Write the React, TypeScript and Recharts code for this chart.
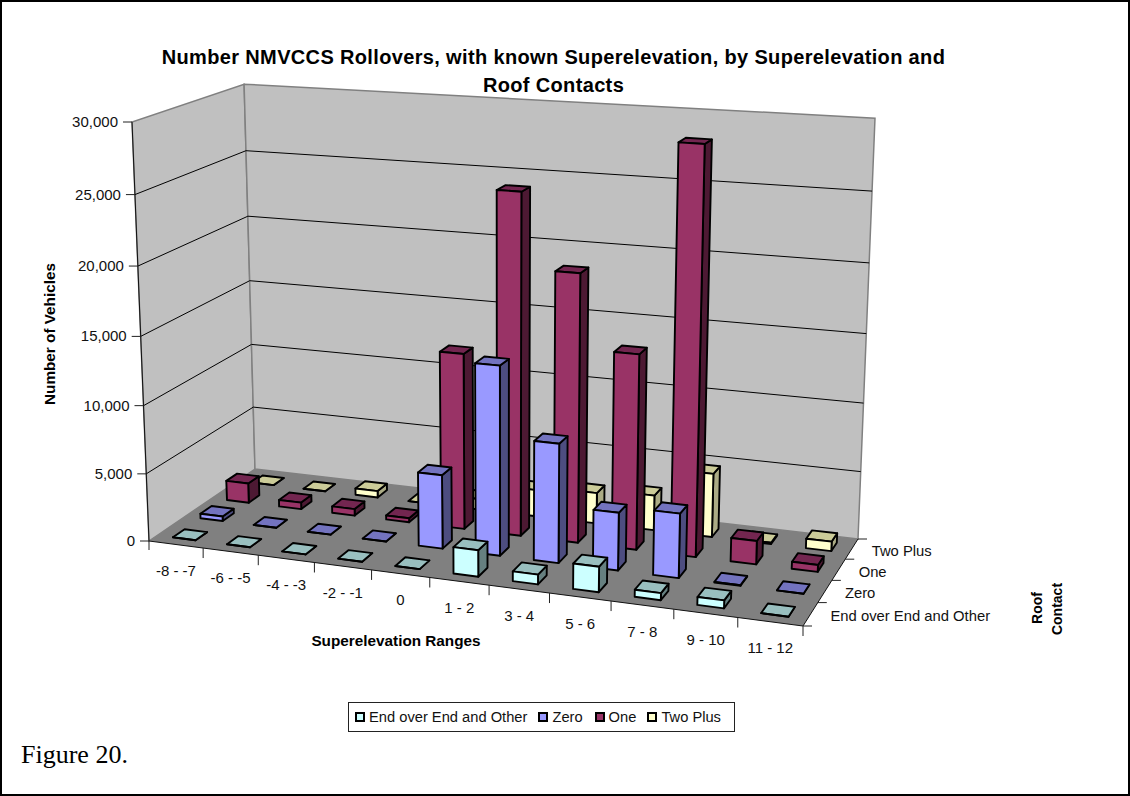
import { BarChart, Bar, XAxis, YAxis, Customized } from "recharts";

const categories = ["-8 - -7", "-6 - -5", "-4 - -3", "-2 - -1", "0", "1 - 2", "3 - 4", "5 - 6", "7 - 8", "9 - 10", "11 - 12"];
const endOverEnd = [0, 0, 0, 0, 0, 1900, 700, 1800, 500, 550, 0];
const zero = [350, 0, 0, 0, 5400, 13700, 8600, 4150, 4600, 50, 0];
const one = [1500, 500, 500, 300, 13000, 24900, 19500, 14150, 28950, 1700, 500];
const twoPlus = [0, 0, 500, 0, 800, 2000, 2300, 2600, 4700, 100, 700];
const depthLabels = ["End over End and Other", "Zero", "One", "Two Plus"];
const yTicks = [0, 5000, 10000, 15000, 20000, 25000, 30000];

const data = categories.map((name, i) => ({
  name,
  end: endOverEnd[i],
  zero: zero[i],
  one: one[i],
  two: twoPlus[i],
}));

const W = 1130;
const H = 796;
const TOP = 122;
const BOTTOM = 541;
const PLOT_H = BOTTOM - TOP;
const FONT = "'Liberation Sans', Arial, sans-serif";

// floor corners on screen: front-left, front-right, back-right, back-left
const FL = [149, 541];
const FR = [803, 626];
const BR = [858, 539];
const BL = [255, 469];
// top of the left front edge and of the right back edge
const TFL = [132, 122];
const TBR = [875, 121];

const sx = FL[0] - FR[0] + BR[0] - BL[0];
const sy = FL[1] - FR[1] + BR[1] - BL[1];
const dx1 = FR[0] - BR[0];
const dx2 = BL[0] - BR[0];
const dy1 = FR[1] - BR[1];
const dy2 = BL[1] - BR[1];
const den = dx1 * dy2 - dx2 * dy1;
const g = (sx * dy2 - dx2 * sy) / den;
const i2 = (dx1 * sy - sx * dy1) / den;
const ax = FR[0] - FL[0] + g * FR[0];
const bx = BL[0] - FL[0] + i2 * BL[0];
const ay = FR[1] - FL[1] + g * FR[1];
const by = BL[1] - FL[1] + i2 * BL[1];
const j = (TBR[0] * (1 + g + i2) - (ax + bx) - TFL[0]) / (TFL[0] - TBR[0]);
const cx = TFL[0] * (1 + j) - FL[0];
const cy = TFL[1] * (1 + j) - FL[1];

// u along the categories, v into the depth, h up the value axis, all 0..1
function project(u: number, v: number, h: number): [number, number] {
  const w = 1 + g * u + i2 * v + j * h;
  return [
    (FL[0] + ax * u + bx * v + cx * h) / w,
    (FL[1] + ay * u + by * v + cy * h) / w,
  ];
}

function poly(pts: [number, number][]) {
  return pts.map((p) => `${p[0].toFixed(1)},${p[1].toFixed(1)}`).join(" ");
}

const N = categories.length;
const D = depthLabels.length;
const BAR = 0.42;

function bar3d(row: number, front: string, top: string, side: string) {
  return (props: any) => {
    const h = props.height / PLOT_H;
    const u0 = (props.index + 0.5 - BAR / 2) / N;
    const u1 = (props.index + 0.5 + BAR / 2) / N;
    const v0 = (row + 0.5 - BAR / 2) / D;
    const v1 = (row + 0.5 + BAR / 2) / D;
    const line = { stroke: "#000", strokeWidth: 1.9, strokeLinejoin: "round" as const };
    return (
      <g>
        <polygon
          points={poly([project(u1, v0, 0), project(u1, v1, 0), project(u1, v1, h), project(u1, v0, h)])}
          fill={side}
          {...line}
        />
        <polygon
          points={poly([project(u0, v0, h), project(u1, v0, h), project(u1, v1, h), project(u0, v1, h)])}
          fill={top}
          {...line}
        />
        <polygon
          points={poly([project(u0, v0, 0), project(u1, v0, 0), project(u1, v0, h), project(u0, v0, h)])}
          fill={front}
          {...line}
        />
      </g>
    );
  };
}

function Walls() {
  const grid = yTicks.slice(1, -1).map((t) => t / 30000);
  return (
    <g>
      <polygon
        points={poly([project(0, 0, 0), project(0, 1, 0), project(0, 1, 1), project(0, 0, 1)])}
        fill="#C0C0C0"
        stroke="#808080"
        strokeWidth={1.5}
      />
      <polygon
        points={poly([project(0, 1, 0), project(1, 1, 0), project(1, 1, 1), project(0, 1, 1)])}
        fill="#C0C0C0"
        stroke="#808080"
        strokeWidth={1.5}
      />
      <polygon
        points={poly([project(0, 0, 0), project(1, 0, 0), project(1, 1, 0), project(0, 1, 0)])}
        fill="#808080"
      />
      {grid.map((h) => (
        <polyline
          key={h}
          points={poly([project(0, 0, h), project(0, 1, h), project(1, 1, h)])}
          fill="none"
          stroke="#000"
          strokeWidth={1}
        />
      ))}
      <polyline points={poly([project(0, 0, 1), project(0, 0, 0), project(1, 0, 0), project(1, 1, 0)])} fill="none" stroke="#111" strokeWidth={1} />
      {categories.map((_, i) => {
        const a = project((i + 1) / N, 0, 0);
        return <line key={i} x1={a[0]} y1={a[1]} x2={a[0]} y2={a[1] + 10} stroke="#222" />;
      })}
      <line x1={FL[0]} y1={FL[1]} x2={FL[0]} y2={FL[1] + 9} stroke="#222" />
      {depthLabels.map((name, i) => {
        const a = project(1, i / D, 0);
        const b = project(1, (i + 0.5) / D, 0);
        return (
          <g key={name}>
            <line x1={a[0]} y1={a[1]} x2={a[0] + 9} y2={a[1]} stroke="#222" />
            <text x={b[0] + 20} y={b[1] + 7} fontSize={14.8} fontFamily={FONT} fill="#111">
              {name}
            </text>
          </g>
        );
      })}
      <line x1={BR[0]} y1={BR[1]} x2={BR[0] + 9} y2={BR[1]} stroke="#222" />
    </g>
  );
}

function YTick(props: any) {
  const h = (BOTTOM - props.y) / PLOT_H;
  const p = project(0, 0, h);
  return (
    <g>
      <line x1={p[0] - 9} y1={p[1]} x2={p[0]} y2={p[1]} stroke="#222" />
      <text x={p[0] - 14} y={p[1] + 5} textAnchor="end" fontSize={15} fontFamily={FONT} fill="#111">
        {props.payload.value.toLocaleString("en-US")}
      </text>
    </g>
  );
}

function XTick(props: any) {
  const p = project((props.index + 0.5) / N, 0, 0);
  return (
    <text x={p[0]} y={p[1] + 31.5} textAnchor="middle" fontSize={15} fontFamily={FONT} fill="#111">
      {props.payload.value}
    </text>
  );
}

const legendItems = [
  { label: "End over End and Other", color: "#CCFFFF", gap: 11 },
  { label: "Zero", color: "#9999FF", gap: 12 },
  { label: "One", color: "#993366", gap: 11 },
  { label: "Two Plus", color: "#FFFFCC", gap: 0 },
];

export default function App() {
  return (
    <div style={{ position: "fixed", left: 0, top: 0, width: W, height: H, background: "#fff" }}>
      <BarChart
        width={W}
        height={H}
        data={data}
        margin={{ top: TOP, bottom: 0, left: 0, right: W - 803 }}
      >
        <Customized component={Walls} />
        <XAxis dataKey="name" axisLine={false} tickLine={false} tick={XTick} interval={0} height={H - BOTTOM} />
        <YAxis domain={[0, 30000]} ticks={yTicks} axisLine={false} tickLine={false} tick={YTick} width={149} />
        <Bar dataKey="two" name="Two Plus" isAnimationActive={false} shape={bar3d(3, "#FFFFCC", "#CCCC99", "#ABAB85")} />
        <Bar dataKey="one" name="One" isAnimationActive={false} shape={bar3d(2, "#993366", "#732650", "#4D1933")} />
        <Bar dataKey="zero" name="Zero" isAnimationActive={false} shape={bar3d(1, "#9999FF", "#7373BF", "#4D4D80")} />
        <Bar dataKey="end" name="End over End and Other" isAnimationActive={false} shape={bar3d(0, "#CCFFFF", "#99BFBF", "#668080")} />
        <text x={553.5} y={64} textAnchor="middle" fontSize={20} letterSpacing={0.35} fontWeight="bold" fontFamily={FONT}>
          Number NMVCCS Rollovers, with known Superelevation, by Superelevation and
        </text>
        <text x={553.5} y={91.5} textAnchor="middle" fontSize={20} letterSpacing={0.35} fontWeight="bold" fontFamily={FONT}>
          Roof Contacts
        </text>
        <text x={396} y={646} textAnchor="middle" fontSize={15.3} fontWeight="bold" fontFamily={FONT}>
          Superelevation Ranges
        </text>
        <text transform="translate(55 334) rotate(-90)" textAnchor="middle" fontSize={15.3} fontWeight="bold" fontFamily={FONT}>
          Number of Vehicles
        </text>
        <text transform="translate(1042 608) rotate(-90)" textAnchor="middle" fontSize={14} fontWeight="bold" fontFamily={FONT}>
          Roof
        </text>
        <text transform="translate(1062 609) rotate(-90)" textAnchor="middle" fontSize={14} fontWeight="bold" fontFamily={FONT}>
          Contact
        </text>
      </BarChart>
      <div
        style={{
          position: "absolute",
          left: 348,
          top: 702,
          width: 387,
          height: 29.5,
          border: "1px solid #222",
          boxSizing: "border-box",
          display: "flex",
          alignItems: "center",
          paddingLeft: 6,
          fontFamily: FONT,
          fontSize: 14.7,
          color: "#111",
        }}
      >
        {legendItems.map((d) => (
          <span key={d.label} style={{ display: "flex", alignItems: "center", marginRight: d.gap }}>
            <span style={{ width: 10, height: 10, boxSizing: "border-box", background: d.color, border: "2px solid #000", marginRight: 4 }} />
            {d.label}
          </span>
        ))}
      </div>
      <div style={{ position: "absolute", left: 21, top: 740, fontFamily: "'Liberation Serif', serif", fontSize: 26, color: "#000" }}>
        Figure 20.
      </div>
      <div style={{ position: "absolute", left: 0, top: 0, width: W, height: H, border: "2px solid #000", boxSizing: "border-box", pointerEvents: "none" }} />
    </div>
  );
}
